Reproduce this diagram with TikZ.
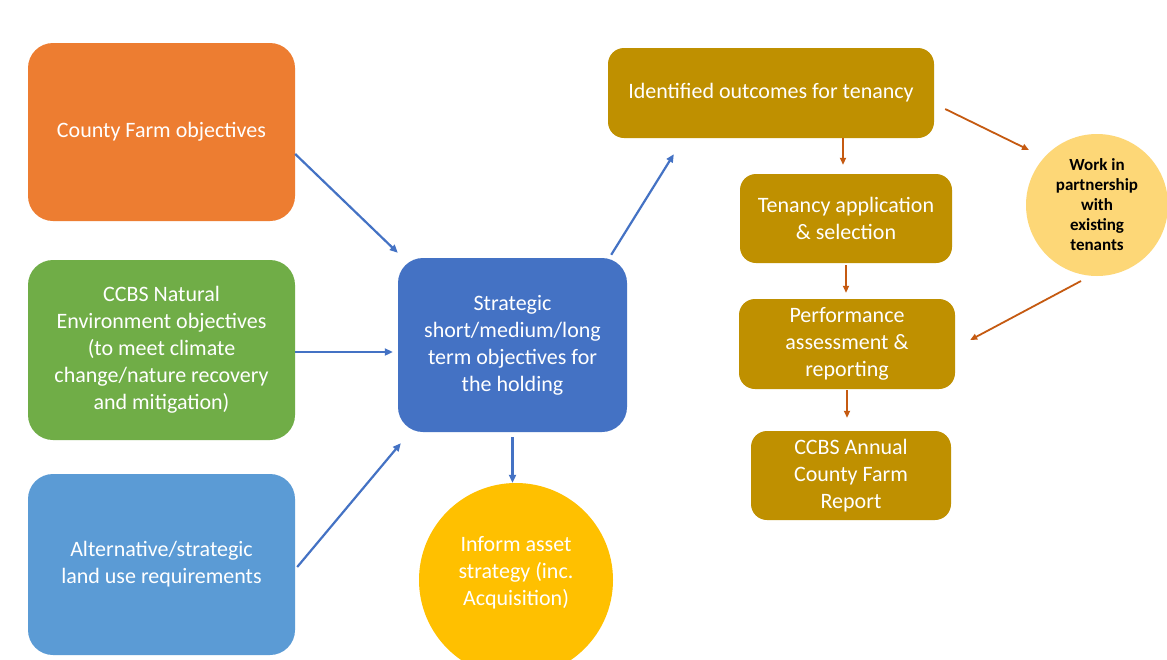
\documentclass[tikz,border=0pt]{standalone}
\usepackage{fontspec}
\setmainfont{Carlito}
\usetikzlibrary{arrows.meta}
\definecolor{corange}{HTML}{ED7D31}
\definecolor{cgreen}{HTML}{70AD47}
\definecolor{clblue}{HTML}{5B9BD5}
\definecolor{cblue}{HTML}{4472C4}
\definecolor{cgold}{HTML}{FFC000}
\definecolor{cdgold}{HTML}{BF9000}
\definecolor{clgold}{HTML}{FDD777}
\definecolor{cred}{HTML}{C55A11}
\begin{document}
\begin{tikzpicture}[x=1pt,y=-1pt,
  box/.style={rectangle, rounded corners=25pt, draw=none, inner sep=0pt, text=white,
    align=center, font=\fontsize{22}{27}\selectfont},
  gbox/.style={box, rounded corners=16pt, fill=cdgold},
  circ/.style={circle, draw=none, inner sep=0pt, align=center},
  barrow/.style={draw=cblue, line width=2.2pt, -{Triangle[length=8pt,width=7pt]}},
  rarrow/.style={draw=cred, line width=1.8pt, -{Triangle[length=7pt,width=6pt]}}]
\useasboundingbox (0,0) rectangle (1167,659);
\clip (0,0) rectangle (1167,659);
\fill[white] (0,0) rectangle (1167,659);

\node[box, fill=corange, minimum width=267pt, minimum height=178pt] (cf) at (161.5,132) {County Farm objectives};
\node[box, fill=cgreen, minimum width=267pt, minimum height=180pt] (gr) at (161.5,350)
  {CCBS Natural\\Environment objectives\\(to meet climate\\change/nature recovery\\and mitigation)};
\node[box, fill=clblue, minimum width=267pt, minimum height=181pt] (lb) at (161.5,564.5)
  {Alternative/strategic\\land use requirements};
\node[box, fill=cblue, minimum width=229pt, minimum height=174pt] (st) at (512.5,345)
  {Strategic\\short/medium/long\\term objectives for\\the holding};
\node[circ, fill=cgold, minimum size=194pt,
  label={[text=white, align=center, font=\fontsize{22}{27}\selectfont, yshift=7pt]center:Inform asset\\strategy (inc.\\Acquisition)}] (inf) at (516,580) {};

\node[gbox, minimum width=326pt, minimum height=90pt] (id) at (771,93) {Identified outcomes for tenancy};
\node[gbox, minimum width=212pt, minimum height=89pt] (ten) at (846,218.5) {Tenancy application\\\& selection};
\node[gbox, minimum width=216pt, minimum height=90pt] (perf) at (847,344) {Performance\\assessment \&\\reporting};
\node[gbox, minimum width=200pt, minimum height=89pt] (ccbs) at (851,475.5) {CCBS Annual\\County Farm\\Report};
\node[circ, fill=clgold, text=black, minimum size=142pt, font=\bfseries\fontsize{17}{20}\selectfont] (wk) at (1097,205)
  {Work in\\partnership\\with\\existing\\tenants};

\draw[barrow] ([yshift=-22pt]cf.east) -- ([yshift=5pt]st.north west);
\draw[barrow] ([yshift=-2pt]gr.east) -- ([xshift=-5pt,yshift=-7pt]st.west);
\draw[barrow] ([xshift=2pt,yshift=-2.5pt]lb.east) -- ([xshift=3pt,yshift=-11pt]st.south west);
\draw[barrow] ([yshift=-5pt]st.south) -- (st.south |- inf.north);
\draw[barrow] ([xshift=-16pt,yshift=3pt]st.north east) -- ([xshift=66pt,yshift=-16pt]id.south west);

\draw[rarrow] ([xshift=-3pt]ten.north |- id.south) -- ([xshift=-3pt,yshift=9pt]ten.north);
\draw[rarrow] ([yshift=-2pt]ten.south) -- ([yshift=6pt]ten.south |- perf.north);
\draw[rarrow] ([yshift=-1pt]perf.south) -- ([yshift=13pt]perf.south |- ccbs.north);
\draw[rarrow] ([xshift=11pt,yshift=-16pt]id.east) -- ([xshift=-68pt,yshift=55pt]wk.center);
\draw[rarrow] ([xshift=-16pt,yshift=-76pt]wk.center) -- ([xshift=15pt,yshift=4pt]perf.east);
\end{tikzpicture}
\end{document}
